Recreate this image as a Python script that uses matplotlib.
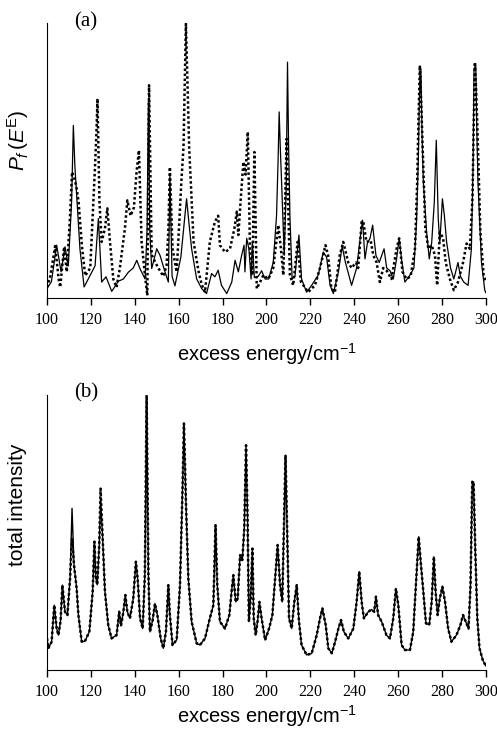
import numpy as np
import matplotlib
matplotlib.use("Agg")
import matplotlib.pyplot as plt

plt.rcParams["mathtext.fontset"] = "custom"
plt.rcParams["mathtext.rm"] = "Liberation Sans"
plt.rcParams["mathtext.it"] = "Liberation Sans:italic"

# panel (a): fluorescence distribution P_f(E^E), two calculations (solid / dotted)
a_solid_x = [100, 102, 104.4, 106.4, 108.2, 109.7, 111.2, 112.0, 112.7, 113.5, 115.0, 116.9, 118.8,
             121.9, 123.4, 124.9, 126.9, 129.5, 132.5, 134.8, 137.1, 139.3, 140.9, 142.4, 144.7,
             145.6, 146.2, 146.8, 147.7, 150, 151.5, 153.8, 155.3, 156.0, 157.0, 158.3, 161, 162.6,
             163.6, 164.6, 165.9, 168.2, 170.5, 172.7, 175, 176.5, 178, 179.5, 181.9, 184.2, 185.7,
             187.2, 188.7, 189.8, 190.2, 191, 192, 193, 193.6, 194.5, 196.3, 197.8, 199.4, 201,
             203.1, 204.6, 205.3, 205.8, 206.3, 206.9, 208.1, 209.0, 209.6, 210.1, 210.7, 211.7,
             213, 214.8, 216, 218.3, 220.6, 223.6, 225.9, 227.4, 229, 230.5, 232.8, 234.5, 236,
             238.8, 241.1, 242.9, 243.8, 244.9, 246, 247.2, 248.4, 249.9, 251.4, 253.6, 254.8,
             256.3, 257.8, 259.3, 260.5, 261.6, 263.1, 265.4, 267.2, 268.4, 269.2, 269.7, 270.4,
             270.9, 271.5, 273, 274.2, 275.3, 276.5, 277.4, 278.3, 279, 280.2, 281.1, 282.1, 283.9,
             285.4, 287.3, 288.4, 289.9, 291.9, 293.4, 294.2, 294.6, 295.4, 295.9, 296.4, 298,
             299.5, 300]
a_solid_y = [3.6, 6, 19.3, 9.6, 18.7, 11.8, 35, 62.9, 48, 37.5, 18, 4.1, 7,
             11.8, 29, 5.9, 7.8, 2.5, 6.2, 7, 9.5, 11, 13.8, 10.7, 7,
             25, 72, 25, 10.8, 18, 15.6, 9.5, 5.9, 45, 8, 4.5, 15, 28,
             36.2, 28, 18, 7, 3.5, 1.7, 9, 7.8, 10.2, 4.7, 1.7, 5.9, 13.8,
             9.6, 15.6, 19.3, 9.6, 21.8, 18, 7, 20.5, 7.5, 8, 10, 7, 7,
             13, 30, 50, 67.8, 55, 42.3, 15.6, 40, 85.9, 55, 30, 7,
             8, 23, 7, 2.2, 4.7, 8.4, 16.8, 15, 4.7, 1.7, 9.6, 19, 13,
             4.7, 11, 23, 28.4, 14.3, 20, 21.8, 26.6, 15.6, 13, 18, 11,
             10, 7, 14.3, 21.8, 14, 5.9, 8.4, 11, 27.8, 50, 72.6, 83.5,
             60, 42.3, 24, 14.3, 20.2, 35, 57.5, 28.9, 20, 36.2, 30, 20.5, 11,
             7, 13, 8, 5.9, 4.7, 18, 50, 83.5, 84.7, 60, 42.3, 13,
             2.9, 2]

a_dot_x = [100, 101.5, 103.7, 105.3, 106, 107.8, 109, 110.5, 111.4, 112.3, 113.3, 114.4, 115.9,
           117.4, 119.7, 121.9, 122.5, 123.0, 123.9, 124.9, 126.4, 127.5, 128.7, 130.2, 131.7,
           133.2, 135.5, 136.6, 138.1, 139.6, 140.8, 141.9, 143.1, 144.7, 145.7, 146.5, 147.7,
           149.2, 150.7, 153, 154.5, 155.3, 156.0, 157.2, 159.1, 161.3, 162.2, 162.8, 163.3,
           164.0, 164.8, 166.8, 169.1, 170.5, 172, 174.2, 176.5, 178, 178.8, 181.1, 183.4, 185.4,
           186.5, 187.2, 188.4, 189.5, 190.5, 191.5, 192.5, 193.6, 194.5, 195.6, 197.1, 198.6,
           200.9, 203.1, 205.4, 206.6, 207.7, 209.2, 210.7, 212.2, 214.2, 215.7, 219, 222.1,
           224.4, 226.9, 228.1, 229.6, 231.2, 233.4, 235, 237.3, 238.8, 240.8, 241.8, 243.4,
           244.1, 245.6, 247.5, 248.7, 250.2, 251.7, 253.2, 254.8, 257, 259.3, 260.5, 262,
           263.9, 265.7, 267.7, 268.7, 269.3, 269.9, 270.5, 271.2, 272.4, 273.8, 275.3, 276.8,
           277.8, 279, 280.5, 281.7, 283.6, 285.4, 287.3, 289.6, 291.2, 292.7, 293.9, 294.5,
           295, 295.6, 296.2, 297.5, 299, 300]
a_dot_y = [4, 8, 19, 7, 4, 18.7, 9.6, 30, 45.9, 44, 41, 35, 19,
           8.2, 11, 48.4, 60, 72.6, 35, 20.5, 25.4, 32.7, 20.5, 7, 4,
           11, 25.4, 35.6, 30, 33, 45.9, 53.8, 20.5, 8, 1, 77.5, 15.8,
           13.3, 11, 8, 12, 25, 47.7, 18, 9.6, 43.5, 55, 80, 99.9,
           78, 54.5, 20.5, 9.6, 5, 2.2, 20.5, 27.8, 30, 19.3, 16.8, 18, 25.4,
           31.5, 23, 37.4, 49.6, 45, 60.5, 18, 8.4, 53.2, 3.5, 5.9, 8.4,
           7, 11, 26.6, 18, 8.4, 58, 8.4, 4.7, 20.5, 6, 2.2, 4.7,
           11, 19.3, 15.6, 3.5, 2.2, 15.6, 20.5, 13, 11, 13, 11, 27.8,
           28, 20.5, 21, 15.6, 13, 5.9, 11, 10, 7, 18, 21.8, 9.6,
           7, 8, 18, 42.3, 65, 84.7, 72, 54.5, 25.4, 18, 19.3, 15.6,
           4.7, 24, 22, 13, 7, 2.9, 5.9, 13, 19.9, 18, 36.2, 65,
           85.9, 75, 60.6, 24, 8.4, 6]

# panel (b): total intensity, experiment (solid) vs calculation (dotted)
b_x = [100, 100.6, 102.1, 103.3, 104.4, 105.2, 106.2, 107, 108.2, 109.3, 110.5, 111.4, 112.3,
       113.5, 114.3, 115.8, 117.3, 119.3, 120.8, 121.6, 122.3, 122.9, 123.8, 124.4, 125.3,
       126.4, 127.9, 129.4, 131.7, 132.9, 133.7, 134.8, 135.7, 136.6, 137.8, 139.3, 140.5,
       141.3, 142.4, 143.6, 144.6, 145.4, 146.2, 146.9, 148.1, 149.2, 150.3, 151.8, 153,
       154.2, 155.3, 156.0, 157.2, 159.1, 160.6, 161.8, 162.4, 163.3, 164.4, 165.9, 168.2,
       169.7, 172, 174.2, 175.8, 176.8, 177.6, 178.8, 181.1, 183.1, 184.1, 184.9, 186,
       186.9, 188, 189, 189.9, 190.7, 191.4, 192, 192.8, 193.6, 194.2, 195.1, 196, 196.8,
       197.8, 199.4, 201.2, 202.7, 204.2, 205.1, 206.2, 207.2, 208.1, 208.7, 209.5, 210.3,
       211.5, 212.7, 213.8, 214.8, 216, 218.3, 220.6, 222.9, 224.4, 225.5, 227, 228.2,
       229.8, 231.3, 232.8, 234, 235.3, 237.3, 239.6, 241.1, 242.3, 243.4, 244.4, 246.4,
       247.9, 249.1, 249.9, 250.9, 252.5, 254.7, 256.3, 257.8, 259, 260.1, 261.6, 263.1,
       265.4, 266.9, 268.1, 269.4, 270.3, 271.5, 272.7, 274.2, 275.3, 276.3, 277.1, 278,
       279, 280.2, 281.4, 282.8, 284.3, 286.6, 288.4, 289.6, 290.8, 292.1, 293, 293.8,
       294.4, 295.2, 296.1, 297.1, 298.6, 300]
b_solid = [11.5, 7.9, 10.3, 23.6, 15.1, 12.7, 18, 30.9, 21.2, 20, 33.3, 58.8, 38.2,
           29.7, 20, 10.3, 10.5, 14, 28.5, 46.7, 33.3, 31, 45.5, 62, 49,
           28.5, 16.4, 11.5, 12.7, 21.2, 16, 21.2, 27.3, 21.2, 18.8, 26, 39.4,
           33.3, 18.8, 15.1, 35, 100, 35, 13.9, 18, 24.2, 20, 11.5, 7.9,
           14, 30.9, 20, 9.1, 11, 30.9, 67.3, 89.7, 61.2, 33.3, 17.6, 9.7,
           9.1, 11.5, 18.8, 23.6, 52.7, 30.9, 17.6, 15.1, 20, 28.5, 34.5, 24.8,
           26, 41.8, 40, 51.5, 81.8, 55.2, 17.6, 26, 44.2, 18.8, 12.7, 18, 24.8,
           18.8, 10.9, 15.1, 20, 35.8, 45.5, 30.9, 24.8, 57.6, 78.2, 49, 18.8,
           15.1, 24.8, 30.9, 18, 9.1, 5.5, 6, 12.7, 18.8, 22.4, 16.4, 7.9,
           6.1, 10.3, 15.1, 18.2, 13.9, 11.5, 15.1, 24.8, 35.8, 24.8, 18.8, 21.2,
           22, 21.2, 26.7, 20, 17.6, 12.7, 11.5, 18.8, 29.7, 23.6, 9.1, 7.3,
           7.3, 13.9, 30.9, 48.5, 39.4, 28.5, 17, 16.4, 24.8, 41.2, 28.5, 20,
           26, 30.3, 24.8, 15.1, 10.3, 12.7, 16.4, 20, 17.6, 15.1, 30.9, 68.5,
           68.5, 43, 18.8, 7.9, 3.6, 1.5]
b_dot = list(b_solid)
b_dot[11] = 48      # 111 cm-1, dotted lower
b_dot[23] = 66      # 124 cm-1, dotted higher

xticks = [100, 120, 140, 160, 180, 200, 220, 240, 260, 280, 300]


def style(ax, labelpad):
    ax.set_xlim(100, 300)
    ax.set_ylim(0, 100)
    ax.spines["top"].set_visible(False)
    ax.spines["right"].set_visible(False)
    ax.set_yticks([])
    ax.set_xticks(xticks)
    ax.tick_params(axis="x", direction="out", length=5, width=1.0, pad=5)
    for lab in ax.get_xticklabels():
        lab.set_fontfamily("Liberation Serif")
        lab.set_fontsize(11.5)
    ax.set_xlabel("excess energy/cm$^{-1}$", fontsize=14.5,
                  fontfamily="Liberation Sans", labelpad=labelpad)


fig = plt.figure(figsize=(4.97, 7.31), dpi=100)
ax1 = fig.add_axes([0.0946, 0.592, 0.883, 0.376])
ax2 = fig.add_axes([0.0946, 0.0834, 0.883, 0.376])

ax1.plot(a_solid_x, a_solid_y, color="black", lw=0.9)
ax1.plot(a_dot_x, a_dot_y, color="black", lw=1.8, linestyle=(0, (1, 1)))
style(ax1, 9.5)

ax2.plot(b_x, b_solid, color="black", lw=1.0)
ax2.plot(b_x, b_dot, color="black", lw=1.8, linestyle=(0, (1, 1)))
style(ax2, 2.5)

fig.text(86 / 497, 1 - 22 / 731, "(a)", fontfamily="Liberation Serif", fontsize=15,
         ha="center", va="center")
fig.text(86 / 497, 1 - 393 / 731, "(b)", fontfamily="Liberation Serif", fontsize=15,
         ha="center", va="center")
fig.text(18 / 497, 1 - 140 / 731, r"$P_f\,(E^{\mathrm{E}})$", fontsize=15,
         rotation=90, ha="center", va="center")
fig.text(18 / 497, 1 - 505 / 731, "total intensity", fontfamily="Liberation Sans",
         fontsize=15, rotation=90, ha="center", va="center")

fig.savefig("out.png", dpi=100)
